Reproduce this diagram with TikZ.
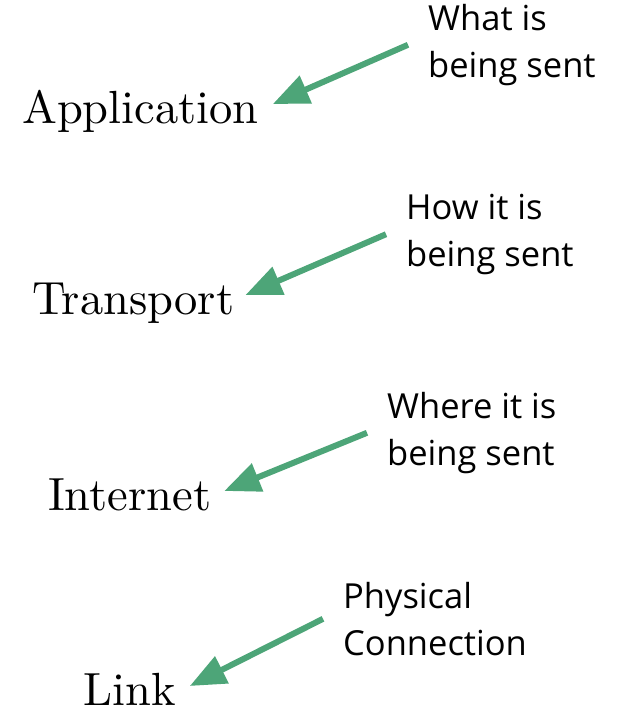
\documentclass[tikz,border=0pt]{standalone}
\usepackage{fontspec}
\usepackage{xcolor}
\usepackage{tikz}
\usetikzlibrary{arrows.meta}
\newfontfamily\layerfont{lmroman10-regular.otf}
\newfontfamily\notefont{Open Sans}
\definecolor{arrowgreen}{RGB}{77,165,120}

\begin{document}
\begin{tikzpicture}[x=1pt, y=-1pt,
  layer/.style={anchor=base west, inner sep=0pt, text height=38pt, text depth=0pt,
                font=\layerfont\fontsize{46.5}{56}\selectfont},
  note/.style={anchor=base west, inner sep=0pt, align=left,
               font=\notefont\fontsize{34.5}{46.5}\selectfont},
  pointer/.style={draw=arrowgreen, line width=6pt,
                  -{Triangle[length=36pt, width=29pt]}, fill=arrowgreen}]
  \useasboundingbox (0,0) rectangle (617,710);

  % protocol layers
  \node[layer] (app) at (22,123) {Application};
  \node[layer] (trans) at (32,314) {Transport};
  \node[layer] (inet) at (48,510) {Internet};
  \node[layer] (link) at (83,705) {Link};

  % what each layer is about (placed by the baseline of the last line)
  \node[note] (what) at (428,77) {What is\\being sent};
  \node[note] (how) at (406,266) {How it is\\being sent};
  \node[note] (where) at (387,465) {Where it is\\being sent};
  \node[note] (phys) at (343,655) {Physical\\Connection};

  \draw[pointer] ([xshift=-20pt]what.west) -- ([xshift=14pt]app.east);
  \draw[pointer] ([xshift=-20pt]how.west) -- ([xshift=11pt]trans.east);
  \draw[pointer] ([xshift=-20pt]where.west) -- ([xshift=13pt]inet.east);
  \draw[pointer] ([xshift=-20pt]phys.west) -- ([xshift=14pt]link.east);
\end{tikzpicture}
\end{document}
